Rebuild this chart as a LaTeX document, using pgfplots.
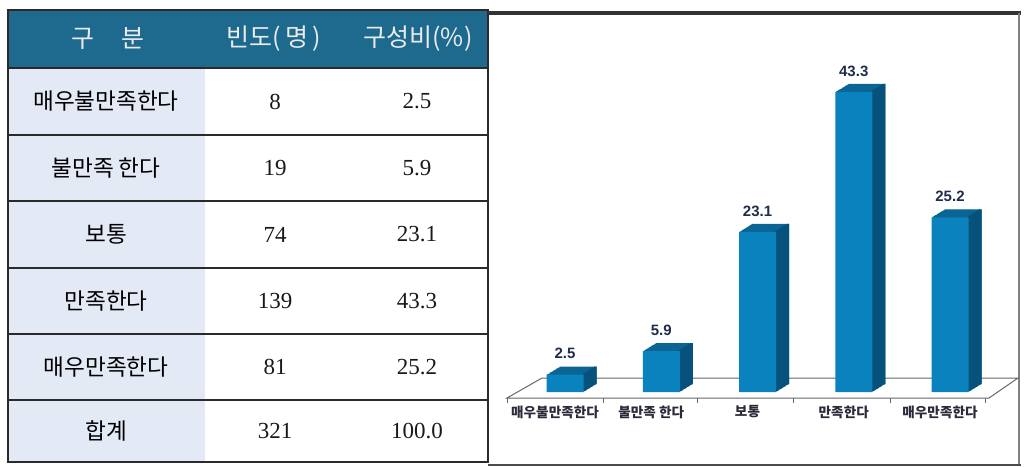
\documentclass[border=0pt]{standalone}
\usepackage{fontspec}
\setmainfont{Liberation Serif}
\newfontfamily\kr{Noto Sans CJK KR}
\newfontfamily\lsans{Liberation Sans}
\usepackage{pgfplots}
\usepackage{pgfplotstable}
\pgfplotsset{compat=1.18}
\definecolor{hdr}{HTML}{1D6A8E}
\definecolor{colbg}{HTML}{E4E9F6}
\definecolor{tline}{HTML}{2A2A2A}
\definecolor{frontc}{HTML}{0A82BE}
\definecolor{topc}{HTML}{0A6494}
\definecolor{sidec}{HTML}{06527C}
\definecolor{labnum}{HTML}{1F2D4A}
\definecolor{labcat}{HTML}{2A2A3A}
\pgfplotstableread{
x y lab
0 2.5 2.5
1 5.9 5.9
2 23.1 23.1
3 43.3 43.3
4 25.2 25.2
}\data
\begin{document}
\begin{tikzpicture}
\useasboundingbox (0,0) rectangle (512bp,-233.5bp);
% ---- table ----
\fill[hdr] (4bp,-5bp) rectangle (244bp,-34bp);
\fill[colbg] (4bp,-34bp) rectangle (102.5bp,-231bp);
\foreach \y in {-34,-67.5,-100.5,-134,-167,-200}
  \draw[line width=0.8bp, draw=tline] (4bp,\y*1bp) -- (244bp,\y*1bp);
\draw[line width=1.3bp, draw=tline] (4bp,-5bp) rectangle (244bp,-231bp);
\begin{scope}[every node/.style={text=white!92!black, font=\kr\fontsize{12.5bp}{14bp}\selectfont}]
\node at (54bp,-19.5bp) {구\hspace{14bp}분};
\node at (137bp,-19.5bp) {빈도(\,명\,)};
\node at (209bp,-19.5bp) {구성비(\%)};
\end{scope}
\begin{scope}[every node/.style={text=black, font=\kr\fontsize{11.3bp}{13bp}\selectfont}]
\node at (53bp,-50.75bp) {매우불만족한다};
\node at (53bp,-84bp) {불만족 한다};
\node at (53bp,-117.25bp) {보통};
\node at (53bp,-150.5bp) {만족한다};
\node at (53bp,-183.5bp) {매우만족한다};
\node at (53bp,-215.5bp) {합계};
\end{scope}
\begin{scope}[every node/.style={text=black!90, font=\fontsize{11.5bp}{13bp}\selectfont}]
\node at (137.5bp,-50.75bp) {8};
\node at (137.5bp,-84bp) {19};
\node at (137.5bp,-117.25bp) {74};
\node at (137.5bp,-150.5bp) {139};
\node at (137.5bp,-183.5bp) {81};
\node at (137.5bp,-215.5bp) {321};
\node at (208.5bp,-50.75bp) {2.5};
\node at (208.5bp,-84bp) {5.9};
\node at (208.5bp,-117.25bp) {23.1};
\node at (208.5bp,-150.5bp) {43.3};
\node at (208.5bp,-183.5bp) {25.2};
\node at (208.5bp,-215.5bp) {100.0};
\end{scope}
% ---- chart panel ----
\draw[line width=1.6bp, draw=black!80] (244bp,-6.5bp) -- (510.5bp,-6.5bp);
\draw[line width=0.6bp, draw=gray] (509.5bp,-6.5bp) -- (509.5bp,-232.5bp);
\draw[line width=1.2bp, draw=black!70] (244bp,-232.5bp) -- (510.5bp,-232.5bp);
% floor
\draw[line width=0.5bp, draw=gray!80!black] (253.5bp,-199bp) -- (494.5bp,-199bp) -- (509bp,-189bp) -- (271bp,-189bp) -- cycle;
\foreach \x in {253.5,301.5,348.5,396.5,445,492.5}
  \draw[line width=0.5bp, draw=gray!80!black] (\x*1bp,-199bp) -- (\x*1bp,-201.5bp);
\begin{axis}[
  at={(282.5bp,-196bp)}, anchor=origin,
  x=48.125bp, y=3.465bp,
  xmin=-0.5, xmax=4.5, ymin=0, ymax=45,
  enlargelimits=false, clip=false,
  axis line style={draw=none},
  major tick length=0pt,
  ytick=\empty,
  xtick={0,...,4},
  xticklabels={매우불만족한다,불만족 한다,보통,만족한다,매우만족한다},
  xticklabel style={font=\kr\bfseries\fontsize{6.8bp}{7bp}\selectfont, text=labcat, anchor=center, xshift=-5bp, yshift=-10bp, inner sep=0pt},
  ybar, bar width=18.5bp,
]
\pgfplotsinvokeforeach{1,...,14}{
  \addplot[fill=topc, draw=none, bar shift={#1*0.4643bp}, yshift={#1*0.2857bp}] table[x=x,y=y] {\data};
}
\pgfplotsinvokeforeach{1,...,14}{
  \addplot[fill=sidec, draw=none, bar width=1.2bp, bar shift={8.65bp+#1*0.4643bp}, yshift={#1*0.2857bp}] table[x=x,y=y] {\data};
}
\addplot[fill=frontc, draw=none, bar shift=0pt,
  nodes near coords, point meta=explicit symbolic,
  nodes near coords style={font=\lsans\bfseries\fontsize{7.5bp}{8bp}\selectfont, text=labnum, anchor=center, yshift=10.5bp}]
  table[x=x,y=y,meta=lab] {\data};
\end{axis}
\end{tikzpicture}
\end{document}
